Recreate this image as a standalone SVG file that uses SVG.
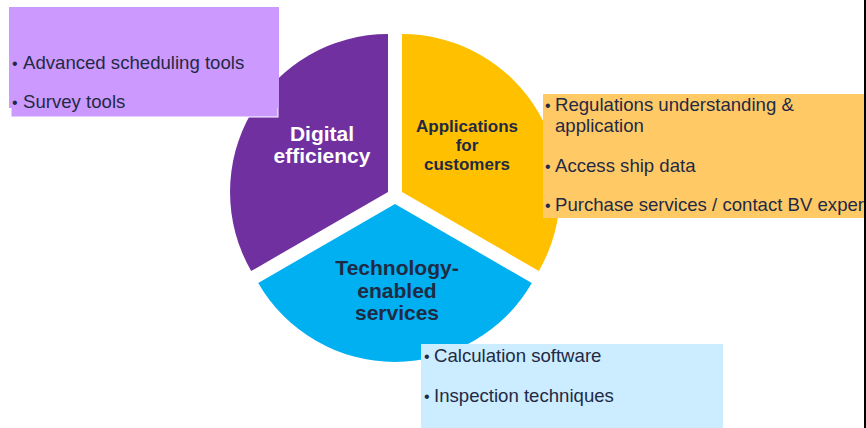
<svg xmlns="http://www.w3.org/2000/svg" width="866" height="428" viewBox="0 0 866 428">
<style>
.lbl{font-family:"Liberation Sans",Arial,sans-serif;font-weight:bold;text-anchor:middle}
.item{font-family:"Liberation Sans",Arial,sans-serif;font-size:18.6px;fill:#1F2A44}
.bul{font-size:16px}
.dark{fill:#1F2A44}
</style>
<rect width="866" height="428" fill="#FFFFFF"/>
<g id="sectors">
  <g id="digital-efficiency">
    <path d="M388,192 L388,34 A158,158 0 0 0 251.2,271 Z" fill="#7030A0"/>
    <text class="lbl" x="322" y="141" font-size="21" fill="#FFFFFF">Digital</text>
    <text class="lbl" x="322" y="163" font-size="21" fill="#FFFFFF">efficiency</text>
  </g>
  <g id="applications-for-customers">
    <path d="M402,192 L402,34 A158,158 0 0 1 538.8,271 Z" fill="#FFC000"/>
    <text class="lbl dark" x="467" y="132" font-size="17">Applications</text>
    <text class="lbl dark" x="467" y="151" font-size="17">for</text>
    <text class="lbl dark" x="467" y="170" font-size="17">customers</text>
  </g>
  <g id="technology-enabled-services">
    <path d="M395,204 L258.2,283 A158,158 0 0 0 531.8,283 Z" fill="#00B0F0"/>
    <text class="lbl dark" x="397" y="275" font-size="21">Technology-</text>
    <text class="lbl dark" x="397" y="298" font-size="21">enabled</text>
    <text class="lbl dark" x="397" y="320" font-size="21">services</text>
  </g>
</g>
<g id="box-digital">
  <rect x="11" y="8" width="267" height="109" fill="#CC99FF" stroke="#FFFFFF" stroke-width="1"/>
  <rect x="9" y="7" width="270" height="101" fill="#CC99FF"/>
  <text class="item" y="69"><tspan class="bul" x="12">•</tspan><tspan x="23">Advanced scheduling tools</tspan></text>
  <text class="item" y="108"><tspan class="bul" x="12">•</tspan><tspan x="23">Survey tools</tspan></text>
</g>
<g id="box-applications">
  <rect x="543" y="94" width="321" height="124" fill="#FFC966"/>
  <text class="item" y="111"><tspan class="bul" x="545">•</tspan><tspan x="555">Regulations understanding &amp;</tspan></text>
  <text class="item" x="555" y="132">application</text>
  <text class="item" y="172"><tspan class="bul" x="545">•</tspan><tspan x="555">Access ship data</tspan></text>
  <text class="item" y="211"><tspan class="bul" x="545">•</tspan><tspan x="555">Purchase services / contact BV exper</tspan></text>
</g>
<g id="box-technology">
  <rect x="421" y="344" width="302" height="84" fill="#CCECFF"/>
  <text class="item" y="362"><tspan class="bul" x="424">•</tspan><tspan x="434">Calculation software</tspan></text>
  <text class="item" y="402"><tspan class="bul" x="424">•</tspan><tspan x="434">Inspection techniques</tspan></text>
</g>
<line x1="865" y1="0" x2="865" y2="428" stroke="#000000" stroke-width="2"/>
<g id="connectors"/>
</svg>
